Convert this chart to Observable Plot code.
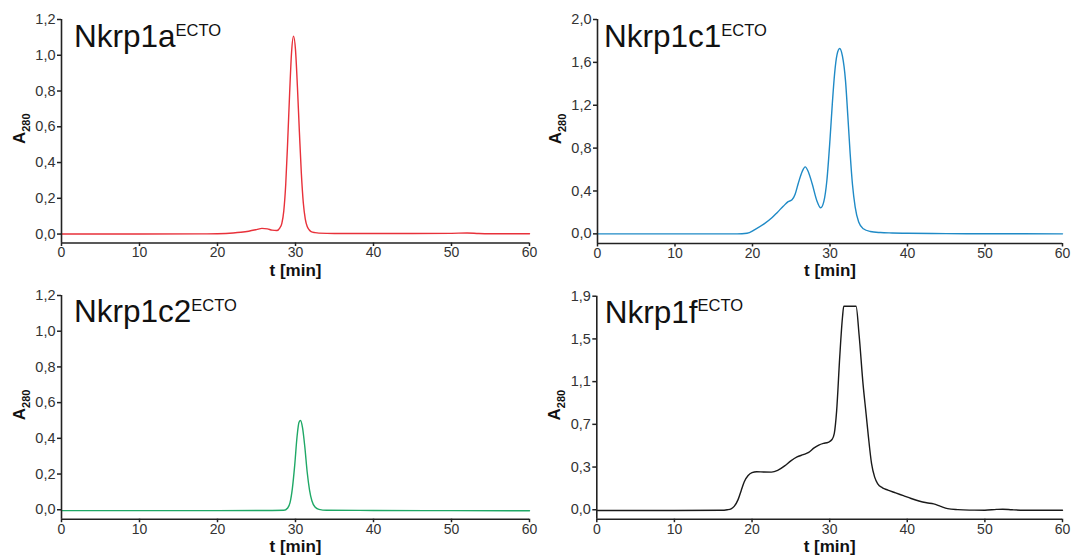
<!DOCTYPE html>
<html>
<head>
<meta charset="utf-8">
<script src="https://cdn.jsdelivr.net/npm/d3@7"></script>
<script src="https://cdn.jsdelivr.net/npm/@observablehq/plot@0.6"></script>
<style>
  html, body { margin: 0; padding: 0; background: #fff; }
  #wrap { position: relative; width: 1076px; height: 558px; overflow: hidden; }
  .panel { position: absolute; }
  .panel svg { display: block; overflow: visible; }
</style>
</head>
<body>
<div id="wrap"></div>
<script>
// ---------- data ----------
const xTicks = [0, 10, 20, 30, 40, 50, 60];

// Nkrp1a (red)
const tNkrp1a = [0, 10, 18, 20, 22, 23, 24, 25, 25.7, 26.4, 27.0, 27.6, 28.0, 28.25, 28.5, 28.75, 29.0, 29.25, 29.5, 29.75, 30.0, 30.25, 30.5, 30.75, 31.0, 31.25, 31.5, 31.75, 32.0, 32.5, 33.0, 35, 40, 45, 50, 52, 53.5, 55, 60];
const aNkrp1a = [0, 0, 0.001, 0.002, 0.006, 0.01, 0.016, 0.025, 0.032, 0.029, 0.022, 0.02, 0.035, 0.06, 0.13, 0.28, 0.52, 0.79, 1.02, 1.107, 1.03, 0.82, 0.57, 0.34, 0.175, 0.085, 0.042, 0.024, 0.014, 0.008, 0.005, 0.003, 0.003, 0.003, 0.004, 0.006, 0.003, 0.002, 0.002];
const yTicksNkrp1a = [0, 0.2, 0.4, 0.6, 0.8, 1.0, 1.2];
const yLabelsNkrp1a = ["0,0", "0,2", "0,4", "0,6", "0,8", "1,0", "1,2"];

// Nkrp1c1 (blue)
const tNkrp1c1 = [0, 10, 18, 19.3, 20.3, 21.5, 22.5, 23.2, 24.0, 24.6, 25.1, 25.5, 25.9, 26.4, 26.8, 27.2, 27.7, 28.3, 28.8, 29.2, 29.6, 30.0, 30.3, 30.6, 30.9, 31.25, 31.6, 32.0, 32.3, 32.6, 32.9, 33.25, 33.7, 34.3, 35.2, 36.5, 38, 40, 45, 50, 60];
const aNkrp1c1 = [0, 0, 0, 0.005, 0.04, 0.093, 0.15, 0.2, 0.26, 0.3, 0.318, 0.37, 0.47, 0.58, 0.625, 0.58, 0.467, 0.31, 0.243, 0.3, 0.5, 0.88, 1.215, 1.5, 1.67, 1.73, 1.66, 1.43, 1.1, 0.75, 0.46, 0.25, 0.11, 0.047, 0.022, 0.012, 0.008, 0.005, 0.002, 0.001, 0];
const yTicksNkrp1c1 = [0, 0.4, 0.8, 1.2, 1.6, 2.0];
const yLabelsNkrp1c1 = ["0,0", "0,4", "0,8", "1,2", "1,6", "2,0"];

// Nkrp1c2 (green)
const tNkrp1c2 = [0, 10, 20, 27, 28.5, 29.0, 29.3, 29.6, 29.9, 30.2, 30.45, 30.65, 30.9, 31.2, 31.5, 31.8, 32.1, 32.5, 33.0, 34, 40, 50, 60];
const aNkrp1c2 = [-0.005, -0.005, -0.005, -0.004, -0.003, 0.01, 0.04, 0.12, 0.25, 0.41, 0.49, 0.5, 0.46, 0.35, 0.21, 0.11, 0.05, 0.015, 0.002, -0.003, -0.004, -0.005, -0.006];
const yTicksNkrp1c2 = [0, 0.2, 0.4, 0.6, 0.8, 1.0, 1.2];
const yLabelsNkrp1c2 = ["0,0", "0,2", "0,4", "0,6", "0,8", "1,0", "1,2"];

// Nkrp1f (black) — values on the panel's evenly spaced axis
const tNkrp1f = [0, 10, 16, 16.8, 17.3, 17.7, 18.2, 18.6, 19.0, 19.5, 20.0, 20.6, 21.5, 22.5, 23.3, 24.2, 25.0, 25.8, 26.6, 27.3, 28.0, 28.6, 29.2, 29.8, 30.3, 30.6, 30.9, 31.3, 31.65, 31.82, 33.4, 33.8, 34.3, 34.7, 35.0, 35.4, 35.8, 36.2, 36.8, 37.5, 38.5, 39.5, 40.5, 41.5, 42.5, 43.4, 44.3, 45.2, 46.5, 48, 50.0, 51.5, 52.3, 53.5, 55, 60];
const aNkrp1f = [-0.006, -0.006, -0.005, 0, 0.008, 0.03, 0.09, 0.17, 0.25, 0.305, 0.33, 0.338, 0.336, 0.335, 0.35, 0.39, 0.435, 0.47, 0.49, 0.51, 0.55, 0.575, 0.59, 0.6, 0.625, 0.68, 0.88, 1.36, 1.71, 1.81, 1.81, 1.55, 1.12, 0.85, 0.646, 0.41, 0.29, 0.23, 0.195, 0.175, 0.15, 0.125, 0.1, 0.078, 0.062, 0.052, 0.03, 0.01, 0.001, -0.003, -0.004, 0.003, 0.005, 0.0, -0.004, -0.005];
const yTicksNkrp1f = [0, 0.38, 0.76, 1.14, 1.52, 1.9];
const yLabelsNkrp1f = ["0,0", "0,3", "0,7", "1,1", "1,5", "1,9"];

const titles = ["Nkrp1a", "Nkrp1c1", "Nkrp1c2", "Nkrp1f"];
const superscript = "ECTO";
const xLabel = "t [min]";
const yLabelMain = "A";
const yLabelSub = "280";
const colors = ["#e8313a", "#1f8ac6", "#1fa866", "#1a1a1a"];

// ---------- layout ----------
const panels = [
  {t: tNkrp1a, a: aNkrp1a, ticks: yTicksNkrp1a, labels: yLabelsNkrp1a, dom: [-0.05, 1.2],  left: 0,   top: 0,   m: [19, 9, 36.5, 61],   tdx: 13, xdy: 32.5},
  {t: tNkrp1c1, a: aNkrp1c1, ticks: yTicksNkrp1c1, labels: yLabelsNkrp1c1, dom: [-0.09, 2.0], left: 538, top: 0,   m: [19, 14, 36, 59],   tdx: 7, xdy: 32},
  {t: tNkrp1c2, a: aNkrp1c2, ticks: yTicksNkrp1c2, labels: yLabelsNkrp1c2, dom: [-0.053, 1.2], left: 0,  top: 279, m: [16, 9, 39.3, 61],  tdx: 13, xdy: 32.5},
  {t: tNkrp1f, a: aNkrp1f, ticks: yTicksNkrp1f, labels: yLabelsNkrp1f, dom: [-0.084, 1.9], left: 538, top: 279, m: [16.7, 14, 39.3, 58.3], tdx: 8.5, xdy: 32.5}
];

const W = 538, H = 279;
const FONT = "Arial, 'Liberation Sans', Helvetica, sans-serif";
const wrap = document.getElementById("wrap");

panels.forEach((p, k) => {
  const data = p.t.map((t, i) => ({t, a: p.a[i]}));
  const lab = new Map(p.ticks.map((v, i) => [v, p.labels[i]]));
  const [mt, mr, mb, ml] = p.m;
  const plot = Plot.plot({
    width: W, height: H,
    marginTop: mt, marginRight: mr, marginBottom: mb, marginLeft: ml,
    style: {fontFamily: FONT, fontSize: "14px", color: "#222", background: "transparent"},
    x: {domain: [0, 60], axis: null},
    y: {domain: p.dom, axis: null},
    marks: [
      Plot.line(data, {x: "t", y: "a", stroke: colors[k], strokeWidth: 1.4, curve: "monotone-x"}),
      Plot.ruleX([0], {stroke: "#222", strokeWidth: 1.6}),
      Plot.ruleY([p.dom[0]], {stroke: "#222", strokeWidth: 1.6}),
      Plot.axisX({ticks: xTicks, tickSize: 3.5, tickPadding: 1, strokeWidth: 1.5, fill: "#333", fontSize: 14, label: null}),
      Plot.axisY({ticks: p.ticks, tickSize: 4, tickPadding: 2, strokeWidth: 1.5, fill: "#333", fontSize: 14.5, tickFormat: d => lab.get(d), label: null}),
      Plot.text([xLabel], {frameAnchor: "bottom", dy: p.xdy, fontWeight: "bold", fontSize: 17, fill: "#111"})
    ]
  });
  const div = document.createElement("div");
  div.className = "panel";
  div.style.left = p.left + "px";
  div.style.top = p.top + "px";
  div.appendChild(plot);
  wrap.appendChild(div);

  const svg = d3.select(plot);
  // y-axis label A280
  const cy = (mt + (H - mb)) / 2;
  const yl = svg.append("text")
    .attr("transform", `translate(${ml - 36},${cy - 2}) rotate(-90)`)
    .attr("text-anchor", "middle")
    .attr("font-family", FONT)
    .attr("font-weight", "bold")
    .attr("fill", "#111");
  yl.append("tspan").attr("font-size", 17).text(yLabelMain);
  yl.append("tspan").attr("font-size", 11).attr("dy", 5).text(yLabelSub);

  // panel title with superscript
  const tt = svg.append("text")
    .attr("x", ml + p.tdx)
    .attr("y", mt + (k < 2 ? 28 : 27))
    .attr("text-anchor", "start")
    .attr("font-family", FONT)
    .attr("fill", "#111");
  tt.append("tspan").attr("font-size", 31.5).text(titles[k]);
  tt.append("tspan").attr("font-size", 16.5).attr("dy", -11.5).text(superscript);
});
</script>
</body>
</html>
